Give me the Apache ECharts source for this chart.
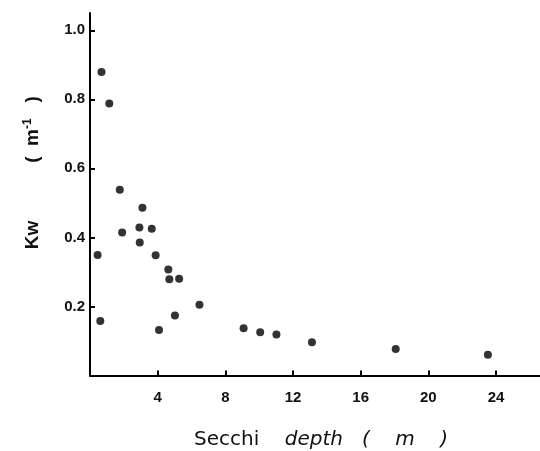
<!DOCTYPE html>
<html>
<head>
<meta charset="utf-8">
<script src="https://cdn.jsdelivr.net/npm/echarts@6/dist/echarts.min.js"></script>
<style>html,body{margin:0;padding:0;background:#fff;}#c{width:540px;height:451px;}</style>
</head>
<body>
<div id="c"></div>
<script>
// Secchi depth (m)
const secchiDepth = [0.68, 1.14, 0.45, 0.61, 1.76, 1.90, 3.10, 2.92, 2.94, 3.65, 3.88, 4.08, 4.63, 4.69, 5.27, 5.02, 6.47, 9.08, 10.06, 11.02, 13.12, 18.07, 23.52];
// Kw (m^-1)
const kw = [0.879, 0.788, 0.349, 0.158, 0.538, 0.414, 0.486, 0.429, 0.385, 0.425, 0.348, 0.132, 0.307, 0.279, 0.280, 0.174, 0.205, 0.137, 0.125, 0.119, 0.096, 0.077, 0.060];
const xTicks = [4, 8, 12, 16, 20, 24];
const yTicks = [0.2, 0.4, 0.6, 0.8, 1.0];

const points = secchiDepth.map((x, i) => [x, kw[i]]);
const font = 'Liberation Sans';
const chart = echarts.init(document.getElementById('c'), null, {renderer: 'canvas'});
chart.setOption({
  backgroundColor: '#fff',
  animation: false,
  grid: {left: 90, top: 13, right: 0, bottom: 75.5, containLabel: false, outerBoundsMode: 'none'},
  xAxis: {
    type: 'value', min: 0, max: 26.6, interval: 4,
    name: '{a|Secchi    }{b|depth   (    m    )}',
    nameLocation: 'middle', nameGap: 54,
    nameTextStyle: {
      padding: [0, 0, 0, 12],
      rich: {
        a: {fontFamily: 'DejaVu Sans', fontSize: 20, color: '#111'},
        b: {fontFamily: 'DejaVu Sans', fontSize: 20, color: '#111', fontStyle: 'italic'}
      }
    },
    axisLine: {show: true, lineStyle: {color: '#000', width: 2}},
    axisTick: {show: true, inside: true, length: 5, lineStyle: {color: '#000', width: 2}},
    axisLabel: {
      margin: 15, fontFamily: font, fontSize: 15, fontWeight: 'bold', color: '#111',
      showMaxLabel: false,
      formatter: v => xTicks.some(t => Math.abs(t - v) < 1e-6) ? String(v) : ''
    },
    splitLine: {show: false}
  },
  yAxis: {
    type: 'value', min: 0, max: 1.05, interval: 0.2,
    name: '{a|Kw           (  m}{s|-1}{a|   )}',
    nameLocation: 'middle', nameGap: 46, nameRotate: 90,
    nameTextStyle: {
      padding: [0, 0, 0, 43],
      rich: {
        a: {fontFamily: font, fontSize: 19, color: '#111', fontWeight: 'bold'},
        s: {fontFamily: font, fontSize: 12, color: '#111', fontWeight: 'bold', verticalAlign: 'top', padding: [0, 0, 10, 0]}
      }
    },
    axisLine: {show: true, lineStyle: {color: '#000', width: 2}},
    axisTick: {show: true, inside: true, length: 5, lineStyle: {color: '#000', width: 2}},
    axisLabel: {
      margin: 5, fontFamily: font, fontSize: 15, fontWeight: 'bold', color: '#111',
      showMaxLabel: false,
      formatter: v => yTicks.some(t => Math.abs(t - v) < 1e-6) ? v.toFixed(1) : ''
    },
    splitLine: {show: false}
  },
  series: [{
    type: 'scatter',
    data: points,
    symbol: 'circle',
    symbolSize: 8,
    itemStyle: {color: '#000'}
  }]
});
</script>
</body>
</html>
